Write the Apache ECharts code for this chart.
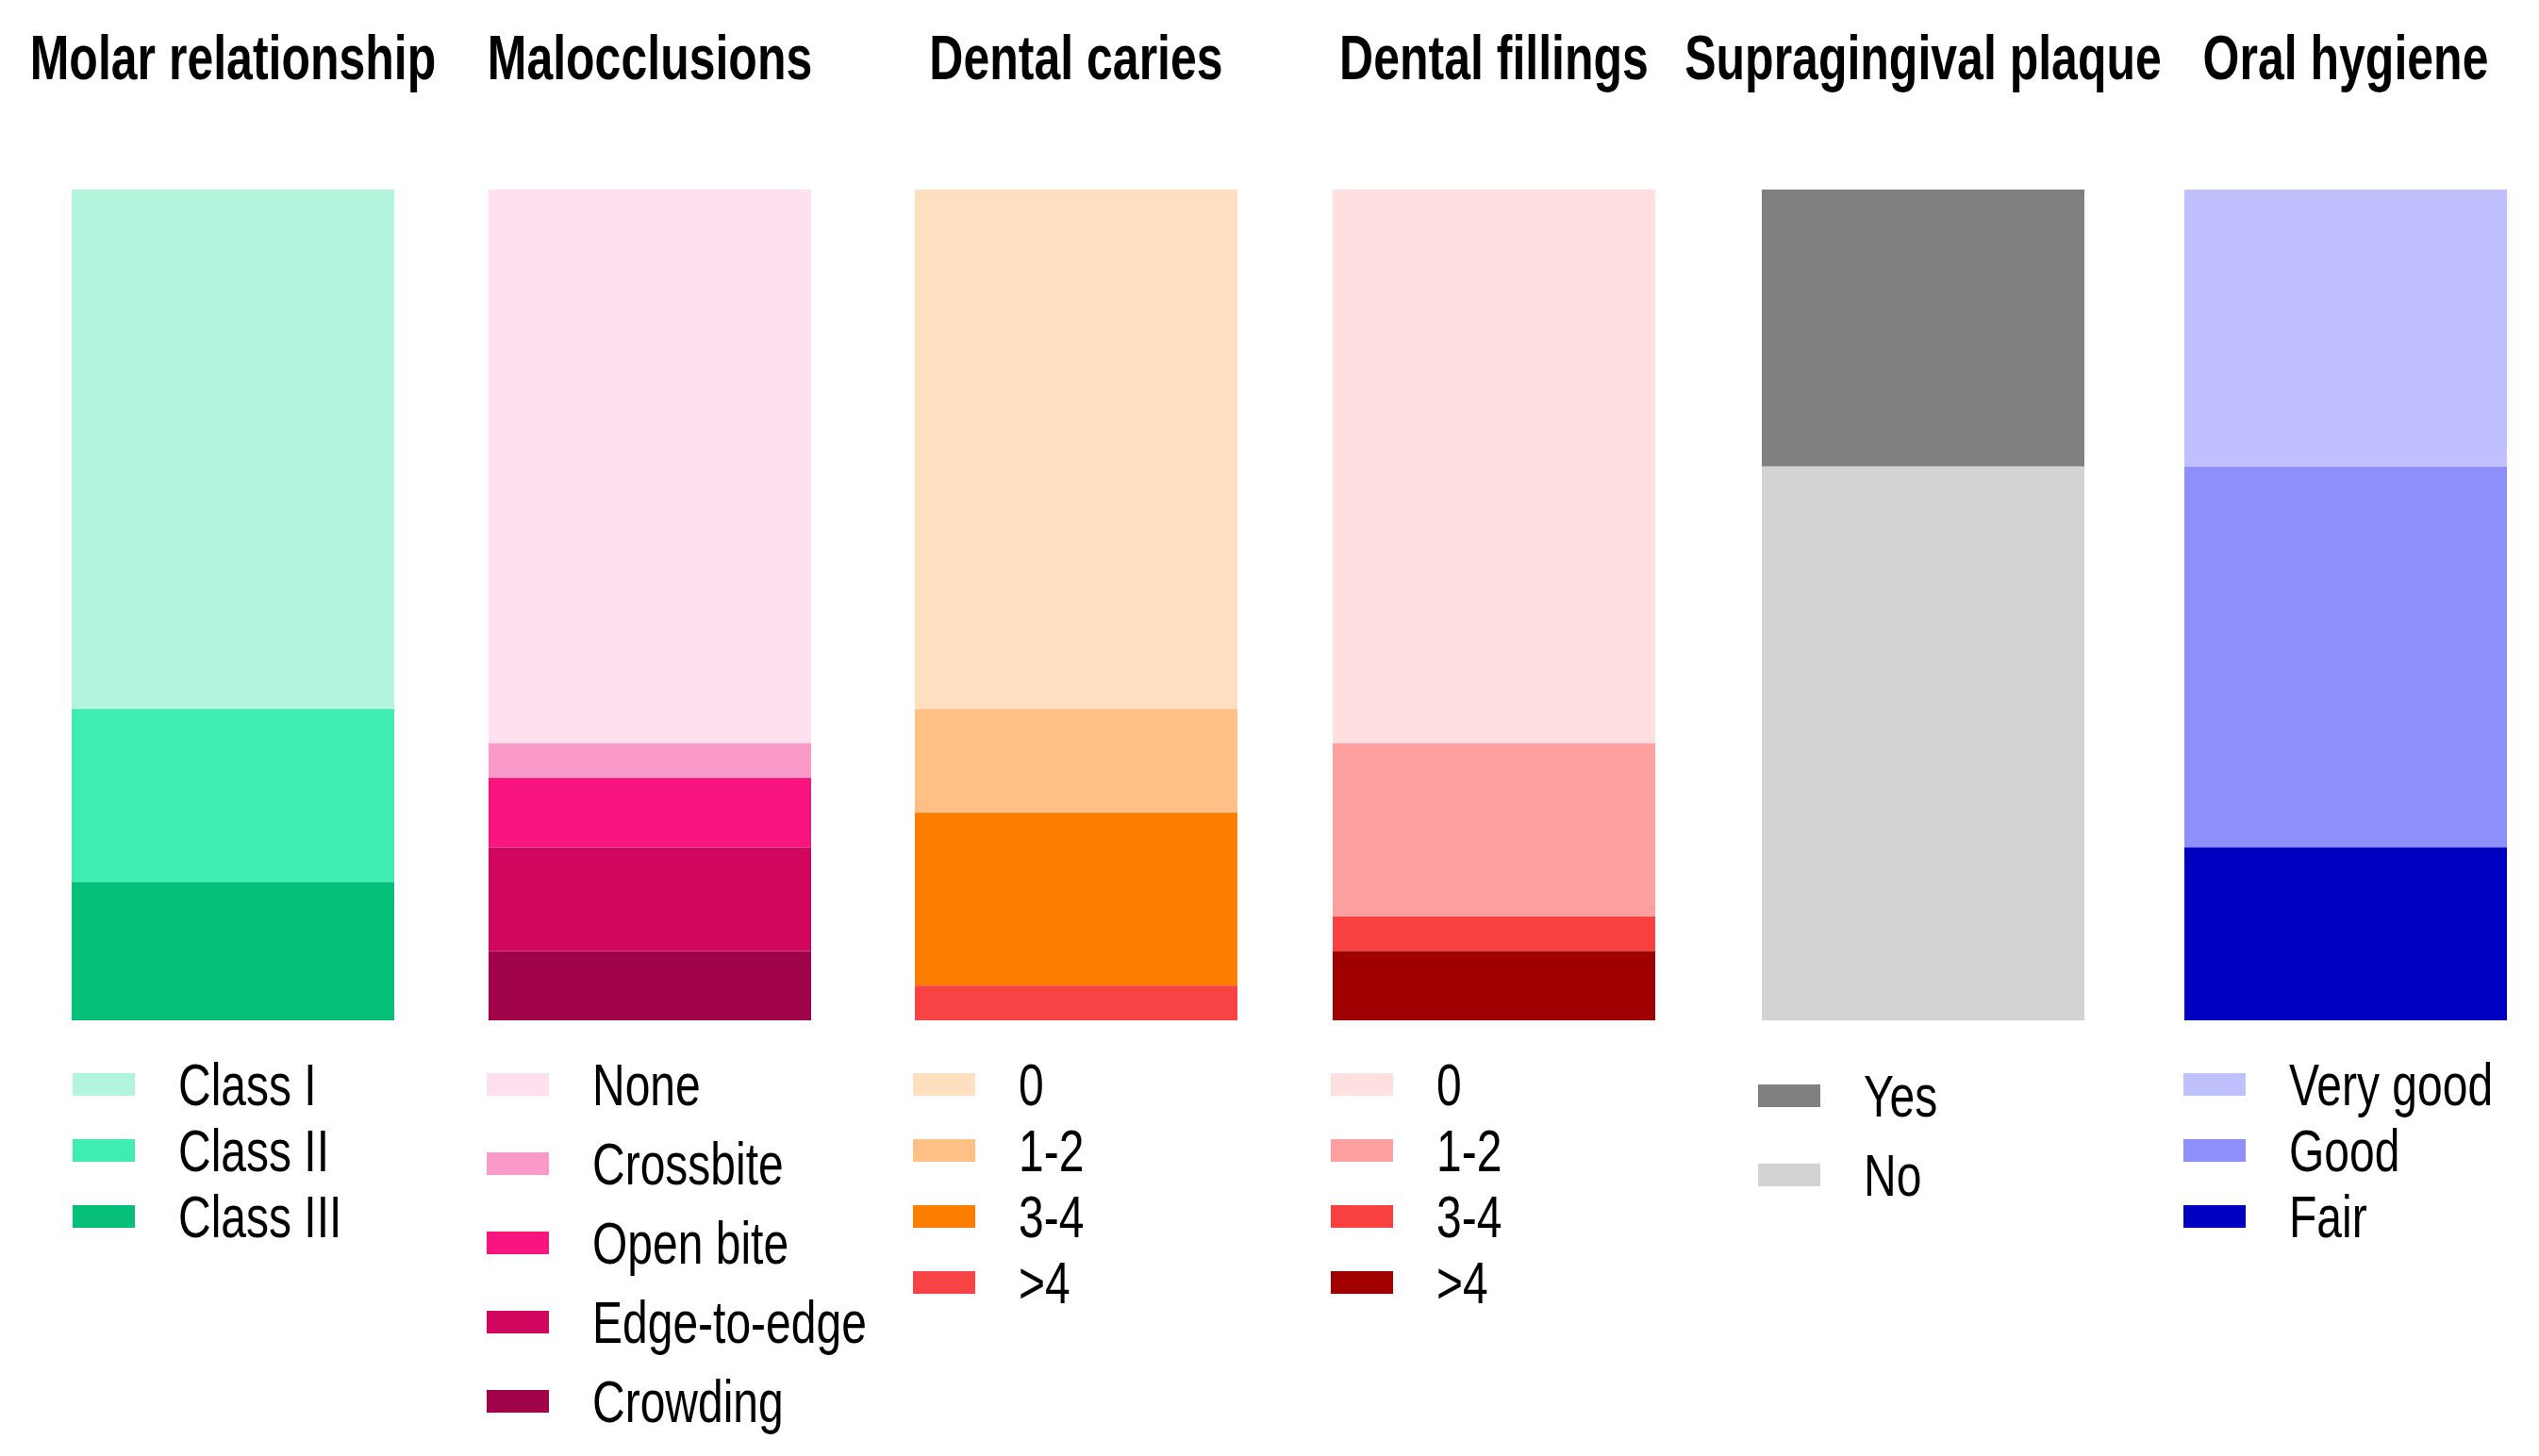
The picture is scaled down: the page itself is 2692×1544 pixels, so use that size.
<!DOCTYPE html>
<html>
<head>
<meta charset="utf-8">
<script src="https://cdn.jsdelivr.net/npm/echarts@6/dist/echarts.min.js"></script>
<style>
html{margin:0;padding:0;background:#fff;overflow:hidden;}
body{margin:0;padding:0;background:#fff;height:1544px;}
#chart{width:2692px;transform-origin:0 0;}
</style>
</head>
<body>
<div id="chart"></div>
<script>
// ---- data ----
const panelTitles = ['Molar relationship', 'Malocclusions', 'Dental caries', 'Dental fillings', 'Supragingival plaque', 'Oral hygiene'];

const molarCats = ['Class I', 'Class II', 'Class III'];
const molarVals = [30, 10, 8];

const maloccCats = ['None', 'Crossbite', 'Open bite', 'Edge-to-edge', 'Crowding'];
const maloccVals = [32, 2, 4, 6, 4];

const cariesCats = ['0', '1-2', '3-4', '>4'];
const cariesVals = [30, 6, 10, 2];

const fillingsCats = ['0', '1-2', '3-4', '>4'];
const fillingsVals = [32, 10, 2, 4];

const plaqueCats = ['Yes', 'No'];
const plaqueVals = [16, 32];

const hygieneCats = ['Very good', 'Good', 'Fair'];
const hygieneVals = [16, 22, 10];

// ---- styling / layout ----
// The reference text is vertically stretched; the chart is drawn in a shorter
// box and stretched vertically by K so text and marks keep that look.
const K = 1.33;
const H = 1544 / K;
document.getElementById('chart').style.height = H + 'px';
document.getElementById('chart').style.transform = 'scaleY(' + K + ')';

const panelColors = [
  ['#b3f5dc', '#40edb0', '#06c07a'],
  ['#ffe0ef', '#f99ac8', '#f8157f', '#d0065f', '#a0034a'],
  ['#fee0c0', '#fec084', '#fe7f00', '#f84344'],
  ['#fee0e0', '#fea0a0', '#f84040', '#a00000'],
  ['#808080', '#d3d3d3'],
  ['#c0c0fe', '#8f8ffb', '#0000c0']
];
const panels = [
  {cats: molarCats, vals: molarVals},
  {cats: maloccCats, vals: maloccVals},
  {cats: cariesCats, vals: cariesVals},
  {cats: fillingsCats, vals: fillingsVals},
  {cats: plaqueCats, vals: plaqueVals},
  {cats: hygieneCats, vals: hygieneVals}
];
const barLeft = [76, 518, 970, 1413, 1868, 2316];
const barWidth = 342;
const barTop = 201 / K, barHeight = 881 / K;
const legendLeft = [77, 516, 968, 1411, 1864, 2315];
const legendFirstCenter = [1150, 1150, 1150, 1150, 1162, 1150];
const legendStep = [70, 84, 70, 70, 84, 70];
const LFS = 48;
const titleY = 61 / K;
const FONT = '"Liberation Sans", Arial, Helvetica, sans-serif';

const grid = [], xAxis = [], yAxis = [], series = [], legend = [];
panels.forEach((p, i) => {
  const total = p.vals.reduce((a, b) => a + b, 0);
  grid.push({left: barLeft[i], top: barTop, width: barWidth, height: barHeight, containLabel: false});
  xAxis.push({type: 'category', gridIndex: i, data: [panelTitles[i]], show: false});
  yAxis.push({type: 'value', gridIndex: i, min: 0, max: total, inverse: true, show: false, splitLine: {show: false}});
  const names = [];
  p.cats.forEach((c, j) => {
    const nm = i + '|' + c;
    names.push(nm);
    series.push({
      name: nm, type: 'bar', stack: 's' + i, xAxisIndex: i, yAxisIndex: i,
      barWidth: '100%', data: [p.vals[j]],
      itemStyle: {color: panelColors[i][j]},
      emphasis: {disabled: true}, animation: false
    });
  });
  legend.push({
    data: names, orient: 'vertical', left: legendLeft[i],
    top: legendFirstCenter[i] / K - LFS / 2,
    icon: 'rect', itemWidth: 66, itemHeight: 24 / K,
    itemGap: legendStep[i] / K - LFS,
    selectedMode: false, padding: 0,
    formatter: n => n.split('|')[1],
    textStyle: {fontFamily: FONT, fontSize: LFS, color: '#000', lineHeight: LFS, padding: [0, 0, 0, 41]}
  });
});

const chart = echarts.init(document.getElementById('chart'), null, {renderer: 'svg'});
chart.setOption({
  backgroundColor: '#fff', animation: false,
  grid, xAxis, yAxis, series, legend,
  graphic: panelTitles.map((t, i) => ({
    type: 'text', x: barLeft[i] + barWidth / 2, y: titleY,
    style: {text: t, textAlign: 'center', textVerticalAlign: 'middle',
      font: 'bold 50px ' + FONT, fill: '#000'}
  }))
});
</script>
</body>
</html>
